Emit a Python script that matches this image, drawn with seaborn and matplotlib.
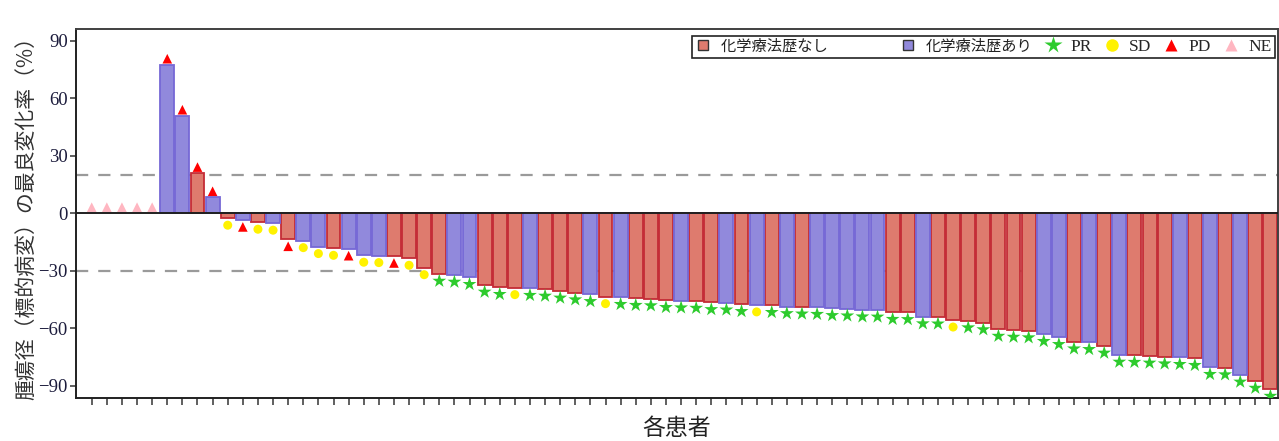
import numpy as np
import pandas as pd
import matplotlib
matplotlib.use("Agg")
import matplotlib.pyplot as plt
import seaborn as sns
from matplotlib.lines import Line2D

# ---------------- data ----------------
patients = list(range(79))

best_change = [np.nan] * 5 + [
    77.4, 50.8, 20.9, 8.3, -2.6, -3.5, -4.7, -5.2, -13.6, -14.3,
    -17.4, -18.3, -18.5, -21.9, -22.1, -22.3, -23.5, -28.4, -31.7, -32.2,
    -33.4, -37.4, -38.6, -38.8, -39.1, -39.5, -40.5, -41.4, -42.3, -43.5,
    -43.8, -44.3, -44.5, -45.4, -45.6, -45.8, -46.5, -46.7, -47.5, -47.8,
    -48.0, -48.6, -48.8, -49.0, -49.6, -49.8, -50.3, -50.4, -51.6, -51.7,
    -53.9, -54.0, -55.7, -56.0, -57.0, -60.4, -60.9, -61.2, -63.1, -64.7,
    -67.0, -67.3, -69.2, -73.9, -74.0, -74.4, -74.8, -75.1, -75.6, -80.3,
    -80.5, -84.3, -87.5, -91.7,
]

# N = 化学療法歴なし, A = 化学療法歴あり
prior_code = ["-"] * 5 + [
    "A", "A", "N", "A", "N", "A", "N", "A", "N", "A",
    "A", "N", "A", "A", "A", "N", "N", "N", "N", "A",
    "A", "N", "N", "N", "A", "N", "N", "N", "A", "N",
    "A", "N", "N", "N", "A", "N", "N", "A", "N", "A",
    "N", "A", "N", "A", "A", "A", "A", "A", "N", "N",
    "A", "N", "N", "N", "N", "N", "N", "N", "A", "A",
    "N", "A", "N", "A", "N", "N", "N", "A", "N", "A",
    "N", "A", "N", "N",
]

response = ["NE"] * 5 + [
    "PD", "PD", "PD", "PD", "SD", "PD", "SD", "SD", "PD", "SD",
    "SD", "SD", "PD", "SD", "SD", "PD", "SD", "SD", "PR", "PR",
    "PR", "PR", "PR", "SD", "PR", "PR", "PR", "PR", "PR", "SD",
    "PR", "PR", "PR", "PR", "PR", "PR", "PR", "PR", "PR", "SD",
    "PR", "PR", "PR", "PR", "PR", "PR", "PR", "PR", "PR", "PR",
    "PR", "PR", "SD", "PR", "PR", "PR", "PR", "PR", "PR", "PR",
    "PR", "PR", "PR", "PR", "PR", "PR", "PR", "PR", "PR", "PR",
    "PR", "PR", "PR", "PR",
]

group_labels = {"N": "化学療法歴なし", "A": "化学療法歴あり"}
response_order = ["PR", "SD", "PD", "NE"]

# ---------------- styling ----------------
bar_style = {
    "N": dict(fc="#DE7B6E", ec="#C42C36"),
    "A": dict(fc="#9189DC", ec="#7668D6"),
}
marker_style = {
    "PR": dict(marker="*", color="#2DCB2D", s=110),
    "SD": dict(marker="o", color="#FFF200", s=42),
    "PD": dict(marker="^", color="#FF0000", s=48),
    "NE": dict(marker="^", color="#FFB6C1", s=48),
}

sns.set_style("ticks")
plt.rcParams["font.family"] = ["Liberation Serif", "Noto Sans CJK JP", "DejaVu Sans"]

df = pd.DataFrame({
    "patient": patients,
    "change": best_change,
    "prior": prior_code,
    "response": response,
})
val0 = df["change"].fillna(0)
df["marker_y"] = np.where(val0 >= 0, val0 + 3.2, val0 - 3.6)

fig = plt.figure(figsize=(12.79, 4.41), dpi=100)
ax = fig.add_axes([76 / 1279, 1 - 398 / 441, (1278 - 76) / 1279, (398 - 29) / 441])

for code in ["N", "A"]:
    sub = df[df["prior"] == code]
    sns.barplot(data=sub, x="patient", y="change", order=patients,
                color=bar_style[code]["fc"], edgecolor=bar_style[code]["ec"],
                linewidth=1.3, width=0.92, saturation=1, errorbar=None, ax=ax,
                zorder=2)

for r in response_order:
    sub = df[df["response"] == r]
    st = marker_style[r]
    sns.scatterplot(x=sub["patient"].to_numpy(), y=sub["marker_y"].to_numpy(),
                    marker=st["marker"], color=st["color"], s=st["s"],
                    edgecolor="none", linewidth=0, legend=False, ax=ax, zorder=4)

# reference lines
ax.axhline(0, color="#202020", lw=1.4, zorder=3)
for yv in (20, -30):
    ax.axhline(yv, color="#9A9A9A", lw=1.6, dashes=(5.5, 4.5), zorder=1)

ax.set_xlim(-1.04, 78.5)
ax.set_ylim(-96.3, 96.1)
ax.set_yticks([-90, -60, -30, 0, 30, 60, 90])
ax.set_xticks(patients)
ax.set_xticklabels([])
ax.tick_params(axis="y", direction="out", length=4, width=1.2, color="#444444",
               labelsize=13.5, labelcolor="#1c1c3c", pad=2)
ax.tick_params(axis="x", direction="out", length=5, width=1.2, color="#444444")
for s in ax.spines.values():
    s.set_color("#404040")
    s.set_linewidth(1.4)
ax.spines["left"].set_color("#202020")
ax.spines["bottom"].set_color("#202020")

ax.set_xlabel("各患者", fontsize=16.5, family=["Noto Sans CJK JP"], color="#222222",
              labelpad=5)
ax.set_ylabel("腫瘍径（標的病変）の最良変化率（%）", fontsize=15,
              family=["Noto Sans CJK JP"], color="#333333", labelpad=1)

handles = [
    Line2D([], [], marker="s", ls="none", markersize=7,
           markerfacecolor=bar_style["N"]["fc"], markeredgecolor="#333333",
           label=group_labels["N"] + "\u3000\u3000\u3000\u3000"),
    Line2D([], [], marker="s", ls="none", markersize=7,
           markerfacecolor=bar_style["A"]["fc"], markeredgecolor="#333333",
           label=group_labels["A"]),
]
for r in response_order:
    st = marker_style[r]
    handles.append(Line2D([], [], marker=st["marker"], ls="none",
                          markersize=13 if st["marker"] == "*" else 9,
                          markerfacecolor=st["color"], markeredgecolor="none",
                          label=r))
leg = ax.legend(handles=handles, ncol=6, loc="upper right",
                bbox_to_anchor=(1.0, 0.99), frameon=True, fancybox=False,
                edgecolor="#222222", framealpha=1, borderpad=0.15,
                handlelength=1.0, handletextpad=0.5, columnspacing=0.66,
                borderaxespad=0.2,
                prop={"family": ["Liberation Serif", "Noto Sans CJK JP"], "size": 12.5})
leg.get_frame().set_linewidth(1.2)
for t in leg.get_texts():
    if t.get_text().startswith("化学"):
        t.set_fontsize(11)
        t.set_color("#222222")

fig.savefig("out.png", dpi=100)
